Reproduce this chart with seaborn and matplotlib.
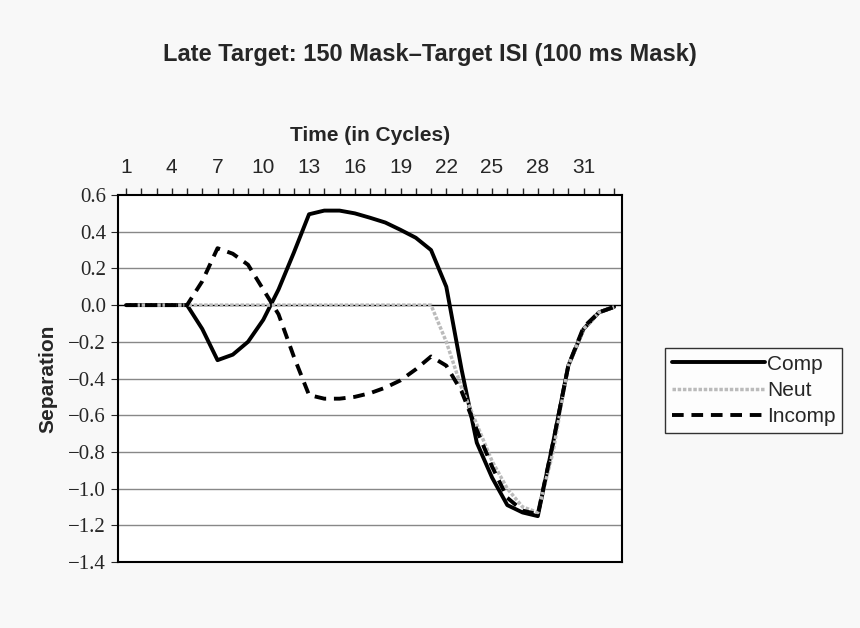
import numpy as np
import matplotlib
matplotlib.use("Agg")
import matplotlib.pyplot as plt
import seaborn as sns
import pandas as pd

cycles = list(range(1, 34))
comp = [0,0,0,0,0,-0.13,-0.30,-0.27,-0.20,-0.08,0.085,0.285,0.495,0.515,0.515,0.50,0.476,0.45,0.41,0.367,0.30,0.10,-0.35,-0.75,-0.94,-1.09,-1.13,-1.15,-0.75,-0.33,-0.13,-0.04,-0.01]
neut = [0]*21 + [-0.2,-0.45,-0.65,-0.85,-1.0,-1.1,-1.13,-0.8,-0.33,-0.13,-0.04,-0.01]
incomp = [0,0,0,0,0,0.13,0.31,0.28,0.22,0.085,-0.05,-0.28,-0.49,-0.51,-0.51,-0.50,-0.48,-0.45,-0.41,-0.35,-0.28,-0.33,-0.47,-0.68,-0.88,-1.05,-1.12,-1.14,-0.75,-0.33,-0.12,-0.04,-0.01]
series = ["Comp", "Neut", "Incomp"]
yticks = [-1.4, -1.2, -1.0, -0.8, -0.6, -0.4, -0.2, 0.0, 0.2, 0.4, 0.6]

sns.set_style("white")
plt.rcParams['font.family'] = ['Liberation Sans', 'DejaVu Sans']

df = pd.DataFrame({"Cycle": cycles*3,
                   "Separation": comp + neut + incomp,
                   "Series": [s for s in series for _ in cycles]})

fig = plt.figure(figsize=(8.6, 6.28), dpi=100)
fig.patch.set_facecolor("#f8f8f8")
ax = fig.add_axes([118/860, 1-562/628, (622-118)/860, (562-195)/628])
ax.set_facecolor("white")
for y in yticks[1:-1]:
    ax.axhline(y, color="#888888" if abs(y) > 1e-6 else "black", lw=1, zorder=0)

styles = {"Comp": dict(color="black", lw=2.8, ls="-"),
          "Neut": dict(color="#bbbbbb", lw=2.5, ls=(0, (1, 0.5))),
          "Incomp": dict(color="black", lw=2.8, ls=(0, (3, 2)))}
for s in series:
    sub = df[df.Series == s]
    sns.lineplot(data=sub, x="Cycle", y="Separation", ax=ax, label=s, **styles[s])

ax.set_xlim(0.475, 33.52)
ax.set_ylim(-1.4, 0.6)
ax.xaxis.tick_top()
ax.xaxis.set_label_position("top")
ax.set_xticks(list(range(1, 34, 3)))
ax.set_xticks(cycles, minor=True)
ax.tick_params(axis="x", which="both", direction="out", length=5, width=1, top=True, bottom=False, labelsize=15, pad=8)
ax.set_yticks(yticks)
ax.set_yticklabels([f"{v:.1f}".replace("-", "\u2212") for v in yticks],
                   family=["Liberation Serif"], fontsize=15)
ax.tick_params(axis="y", direction="out", length=5, left=True)
ax.set_xlabel("Time (in Cycles)", fontsize=15, fontweight="bold", labelpad=12)
ax.set_ylabel("Separation", fontsize=15, fontweight="bold", labelpad=8)
for sp in ax.spines.values():
    sp.set_color("black"); sp.set_linewidth(1.5)
leg = ax.legend(loc="upper left", bbox_to_anchor=(655/860, 1-338/628), bbox_transform=fig.transFigure,
                frameon=True, fancybox=False, edgecolor="black", fontsize=15, handlelength=4.5,
                handletextpad=0.1, borderpad=0.3, labelspacing=0.35)
leg.get_frame().set_linewidth(1)
fig.text(0.5, 1-55/628, "Late Target: 150 Mask\u2013Target ISI (100 ms Mask)", ha="center", va="center",
         fontsize=17, fontweight="bold")
fig.savefig("out.png", dpi=100, facecolor=fig.get_facecolor())
